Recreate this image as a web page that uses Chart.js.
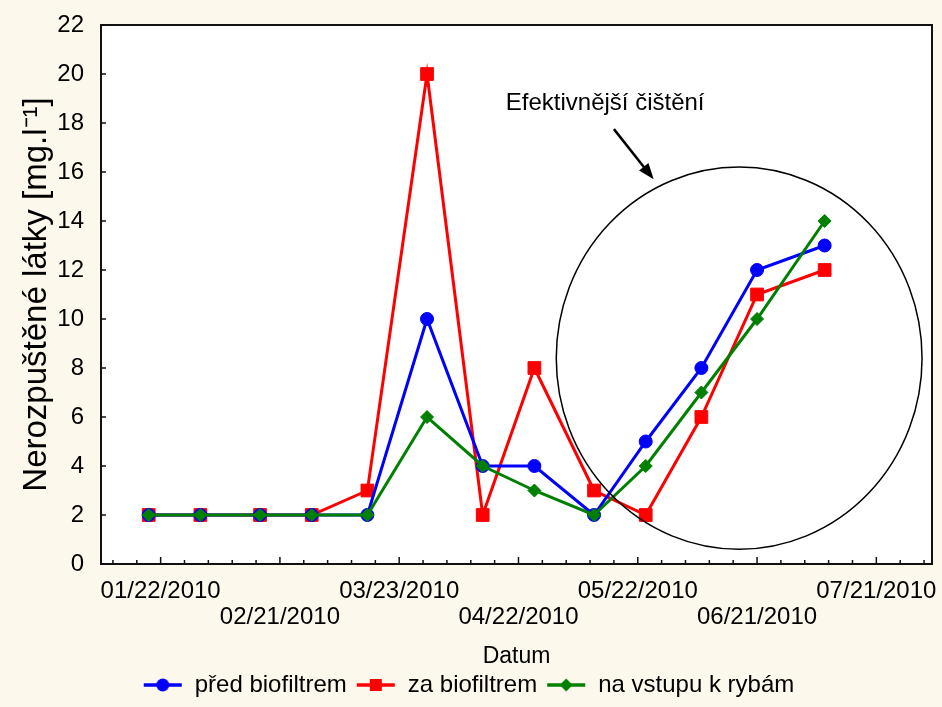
<!DOCTYPE html>
<html>
<head>
<meta charset="utf-8">
<script src="https://cdn.jsdelivr.net/npm/chart.js@4"></script>
<style>
  html, body { margin: 0; padding: 0; background: #fdf8ec; }
  #box { width: 942px; height: 707px; }
</style>
</head>
<body>
<div id="box"><canvas id="graf"></canvas></div>
<script>
// Data
const datumy = ['2010-01-19', '2010-02-01', '2010-02-16', '2010-03-01', '2010-03-15', '2010-03-30',
                '2010-04-13', '2010-04-26', '2010-05-11', '2010-05-24', '2010-06-07', '2010-06-21', '2010-07-08'];
const predBiofiltrem = [2, 2, 2, 2, 2, 10, 4, 4, 2, 5, 8, 12, 13];
const zaBiofiltrem   = [2, 2, 2, 2, 3, 20, 2, 8, 3, 2, 6, 11, 12];
const naVstupu       = [2, 2, 2, 2, 2, 6, 4, 3, 2, 4, 7, 10, 14];

const popiskyDatumu = ['2010-01-22', '2010-02-21', '2010-03-23', '2010-04-22', '2010-05-22', '2010-06-21', '2010-07-21'];
const hodnotyY = [0, 2, 4, 6, 8, 10, 12, 14, 16, 18, 20, 22];
const rozsahX = ['2010-01-07', '2010-08-04'];

const pismo = "'Liberation Sans', Arial, sans-serif";
const barvy = ['#0000ff', '#ff0000', '#008000'];

// den od prvního popisku
const den = d => (Date.parse(d) - Date.parse(popiskyDatumu[0])) / 864e5;
const naText = d => { const [r, m, dd] = d.split('-'); return m + '/' + dd + '/' + r; };
const body = hodnoty => datumy.map((d, i) => ({ x: den(d), y: hodnoty[i] }));

// ikony do legendy (čára se značkou)
function ikona(barva, tvar) {
    const c = document.createElement('canvas');
    c.width = 40; c.height = 16;
    const g = c.getContext('2d');
    g.strokeStyle = barva; g.fillStyle = barva; g.lineWidth = 3.5;
    g.beginPath(); g.moveTo(1, 8); g.lineTo(39, 8); g.stroke();
    g.beginPath();
    if (tvar === 'circle') g.arc(20, 8, 6.5, 0, Math.PI * 2);
    else if (tvar === 'rect') g.rect(14, 2, 12, 12);
    else { g.moveTo(20, 1.5); g.lineTo(26.5, 8); g.lineTo(20, 14.5); g.lineTo(13.5, 8); g.closePath(); }
    g.fill();
    return c;
}
const ikony = [ikona(barvy[0], 'circle'), ikona(barvy[1], 'rect'), ikona(barvy[2], 'diamond')];

// poloha anotace v jednotkách os
const kruh = { x: 145.5, y: 8.4, rx: 46, ry: 7.8 };
const sipka = { x1: 114, y1: 17.75, x2: 124, y2: 15.7 };
const popisek = { x: 111.8, y: 18.8, text: 'Efektivnější čištění' };

const dekorace = {
    id: 'dekorace',
    beforeDraw(chart) {
        const { ctx, chartArea: a } = chart;
        ctx.save();
        ctx.fillStyle = '#fdf8ec';
        ctx.fillRect(0, 0, chart.width, chart.height);
        ctx.fillStyle = '#ffffff';
        ctx.fillRect(a.left, a.top, a.right - a.left, a.bottom - a.top);
        ctx.restore();
    },
    afterDatasetsDraw(chart) {
        const { ctx, scales: { x, y } } = chart;
        ctx.save();
        // elipsa
        const cx = x.getPixelForValue(kruh.x), cy = y.getPixelForValue(kruh.y);
        const rx = x.getPixelForValue(kruh.x + kruh.rx) - cx;
        const ry = cy - y.getPixelForValue(kruh.y + kruh.ry);
        ctx.strokeStyle = '#000'; ctx.lineWidth = 1.5;
        ctx.beginPath(); ctx.ellipse(cx, cy, rx, ry, 0, 0, Math.PI * 2); ctx.stroke();
        // šipka
        const x1 = x.getPixelForValue(sipka.x1), y1 = y.getPixelForValue(sipka.y1);
        const x2 = x.getPixelForValue(sipka.x2), y2 = y.getPixelForValue(sipka.y2);
        const uhel = Math.atan2(y2 - y1, x2 - x1);
        ctx.lineWidth = 2.5;
        ctx.beginPath(); ctx.moveTo(x1, y1);
        ctx.lineTo(x2 - 12 * Math.cos(uhel), y2 - 12 * Math.sin(uhel)); ctx.stroke();
        ctx.fillStyle = '#000';
        ctx.beginPath();
        ctx.moveTo(x2, y2);
        ctx.lineTo(x2 - 16 * Math.cos(uhel) + 6 * Math.sin(uhel), y2 - 16 * Math.sin(uhel) - 6 * Math.cos(uhel));
        ctx.lineTo(x2 - 16 * Math.cos(uhel) - 6 * Math.sin(uhel), y2 - 16 * Math.sin(uhel) + 6 * Math.cos(uhel));
        ctx.closePath(); ctx.fill();
        // text
        ctx.font = '24px ' + pismo;
        ctx.textAlign = 'center'; ctx.textBaseline = 'middle';
        ctx.fillText(popisek.text, x.getPixelForValue(popisek.x), y.getPixelForValue(popisek.y));
        ctx.restore();
    },
    afterDraw(chart) {
        const { ctx, chartArea: a, scales: { x, y } } = chart;
        ctx.save();
        ctx.strokeStyle = '#111'; ctx.lineWidth = 2;
        ctx.strokeRect(a.left, a.top, a.right - a.left, a.bottom - a.top);
        ctx.lineWidth = 1.5;
        ctx.beginPath();
        // vedlejší značky po 6 dnech, hlavní po 30 dnech
        for (let d = -12; d <= 192; d += 6) {
            const px = x.getPixelForValue(d);
            const delka = d % 30 === 0 ? 7 : 4;
            ctx.moveTo(px, a.bottom); ctx.lineTo(px, a.bottom - delka);
        }
        hodnotyY.forEach(v => {
            const py = y.getPixelForValue(v);
            ctx.moveTo(a.left, py); ctx.lineTo(a.left + 5, py);
        });
        ctx.stroke();
        ctx.restore();
    }
};

const sady = [
    { label: 'před biofiltrem', data: body(predBiofiltrem), pointStyle: 'circle', pointRadius: 6.5, order: 1 },
    { label: 'za biofiltrem', data: body(zaBiofiltrem), pointStyle: 'rect', pointRadius: 9, order: 2 },
    { label: 'na vstupu k rybám', data: body(naVstupu), pointStyle: 'rectRot', pointRadius: 6.5, order: 0 }
].map((s, i) => Object.assign(s, {
    borderColor: barvy[i], backgroundColor: barvy[i], pointBackgroundColor: barvy[i],
    pointBorderColor: barvy[i], borderWidth: 3, pointBorderWidth: 1, tension: 0
}));

new Chart(document.getElementById('graf'), {
    type: 'line',
    data: { datasets: sady },
    plugins: [dekorace],
    options: {
        responsive: true,
        maintainAspectRatio: false,
        animation: false,
        devicePixelRatio: 1,
        layout: { padding: { top: 25, right: 5, bottom: 0, left: 0 } },
        plugins: {
            tooltip: { enabled: false },
            legend: {
                position: 'bottom',
                labels: {
                    usePointStyle: true,
                    pointStyleWidth: 40,
                    padding: 9,
                    color: '#000',
                    font: { family: pismo, size: 24, lineHeight: 0.7 },
                    sort: (a, b) => a.datasetIndex - b.datasetIndex,
                    generateLabels(chart) {
                        const zaklad = Chart.defaults.plugins.legend.labels.generateLabels(chart);
                        return zaklad.map(l => Object.assign(l, { pointStyle: ikony[l.datasetIndex] }));
                    }
                }
            }
        },
        scales: {
            x: {
                type: 'linear',
                min: den(rozsahX[0]),
                max: den(rozsahX[1]),
                afterBuildTicks: s => { s.ticks = popiskyDatumu.map(d => ({ value: den(d) })); },
                afterFit: s => { s.height = 100; s.paddingLeft = 0; s.paddingRight = 0; },
                grid: { display: false },
                border: { display: false },
                ticks: {
                    autoSkip: false,
                    maxRotation: 0,
                    padding: 6,
                    color: '#000',
                    font: { family: pismo, size: 24, lineHeight: 1.08 },
                    callback: (v, i) => i % 2 ? ['', naText(popiskyDatumu[i])] : naText(popiskyDatumu[i])
                },
                title: {
                    display: true, text: 'Datum', color: '#000',
                    font: { family: pismo, size: 23, lineHeight: 0.8 },
                    padding: { top: 0, bottom: -2 }
                }
            },
            y: {
                min: 0,
                max: 22,
                afterBuildTicks: s => { s.ticks = hodnotyY.map(v => ({ value: v })); },
                afterFit: s => { s.width = 101; },
                grid: { display: false },
                border: { display: false },
                ticks: { padding: 9, color: '#000', font: { family: pismo, size: 24 } },
                title: {
                    display: true, text: 'Nerozpuštěné látky [mg.l⁻¹]', color: '#000',
                    font: { family: pismo, size: 33 },
                    padding: { top: 17, bottom: 0 }
                }
            }
        }
    }
});
</script>
</body>
</html>
